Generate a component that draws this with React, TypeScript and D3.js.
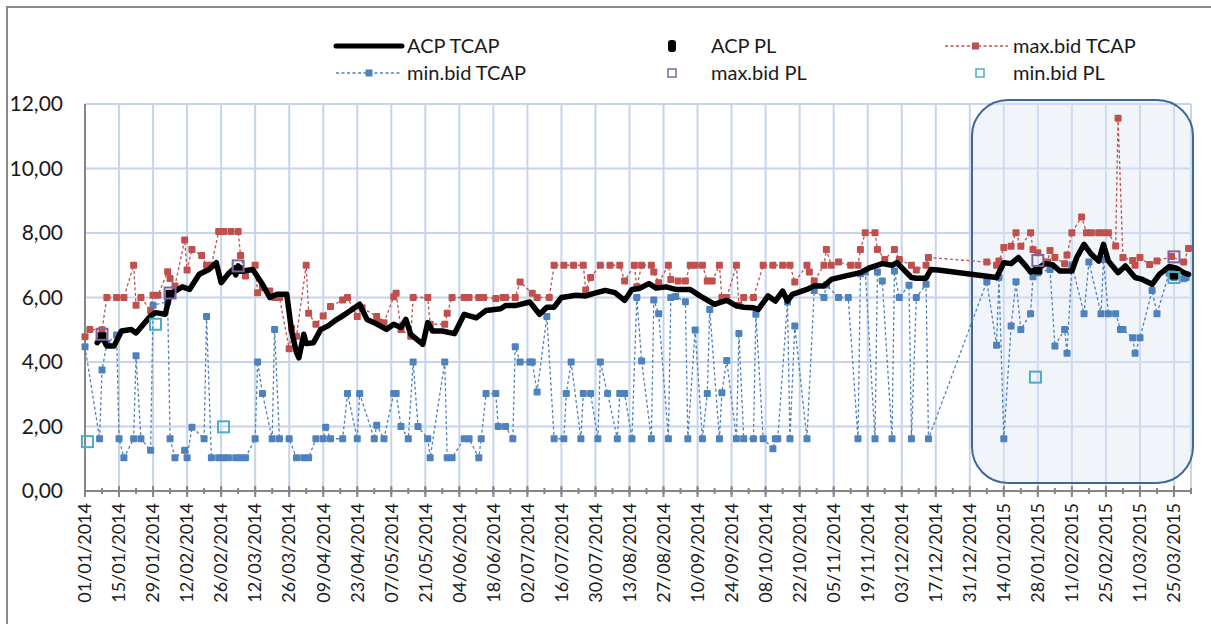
import React from "react";
import * as d3 from "d3";

type Pt = [string, number];

const acpTcap: Pt[] = [
  ["2014-01-06",4.6],["2014-01-08",4.78],["2014-01-10",4.5],["2014-01-13",4.5],["2014-01-16",4.96],["2014-01-20",5.01],
  ["2014-01-22",4.9],["2014-01-28",5.43],["2014-01-30",5.53],["2014-02-03",5.48],["2014-02-05",6.1],["2014-02-10",6.33],
  ["2014-02-13",6.25],["2014-02-17",6.72],["2014-02-21",6.87],["2014-02-24",7.08],["2014-02-26",6.46],["2014-03-01",6.74],
  ["2014-03-03",6.87],["2014-03-04",6.7],["2014-03-05",6.98],["2014-03-07",6.82],["2014-03-11",6.87],["2014-03-15",6.41],
  ["2014-03-18",6.0],["2014-03-21",6.1],["2014-03-25",6.1],["2014-03-27",4.96],["2014-03-29",4.29],["2014-03-30",4.13],
  ["2014-04-01",4.86],["2014-04-02",4.57],["2014-04-05",4.6],["2014-04-08",5.01],["2014-04-11",5.12],["2014-04-14",5.29],
  ["2014-04-17",5.43],["2014-04-20",5.58],["2014-04-24",5.79],["2014-04-27",5.32],["2014-04-30",5.22],["2014-05-05",5.01],
  ["2014-05-08",5.17],["2014-05-11",5.07],["2014-05-13",5.32],["2014-05-15",4.86],["2014-05-20",4.55],["2014-05-22",5.22],
  ["2014-05-24",4.96],["2014-05-28",4.96],["2014-06-02",4.88],["2014-06-06",5.48],["2014-06-11",5.37],["2014-06-15",5.6],
  ["2014-06-21",5.65],["2014-06-23",5.75],["2014-06-27",5.75],["2014-07-03",5.86],["2014-07-07",5.48],["2014-07-10",5.7],
  ["2014-07-13",5.7],["2014-07-16",6.0],["2014-07-22",6.07],["2014-07-26",6.05],["2014-07-29",6.12],["2014-08-03",6.22],
  ["2014-08-07",6.15],["2014-08-11",5.91],["2014-08-14",6.25],["2014-08-17",6.28],["2014-08-21",6.43],["2014-08-24",6.29],
  ["2014-08-28",6.33],["2014-09-01",6.25],["2014-09-07",6.25],["2014-09-11",6.05],["2014-09-17",5.79],["2014-09-19",5.84],
  ["2014-09-22",5.91],["2014-09-26",5.74],["2014-09-29",5.7],["2014-10-03",5.68],["2014-10-05",5.63],["2014-10-09",6.05],
  ["2014-10-12",5.89],["2014-10-15",6.2],["2014-10-17",5.89],["2014-10-19",6.1],["2014-10-25",6.25],["2014-10-28",6.36],
  ["2014-11-01",6.36],["2014-11-04",6.56],["2014-11-10",6.67],["2014-11-16",6.77],["2014-11-20",6.93],["2014-11-25",7.05],
  ["2014-11-29",7.0],["2014-12-01",7.08],["2014-12-05",6.77],["2014-12-07",6.62],["2014-12-09",6.6],["2014-12-13",6.6],
  ["2014-12-15",6.87],["2014-12-18",6.85],["2015-01-11",6.62],["2015-01-14",7.08],["2015-01-17",7.05],["2015-01-20",7.24],
  ["2015-01-23",6.98],["2015-01-25",6.79],["2015-01-29",6.95],["2015-01-31",7.05],["2015-02-03",7.02],["2015-02-06",6.82],
  ["2015-02-11",6.82],["2015-02-13",7.24],["2015-02-16",7.65],["2015-02-19",7.34],["2015-02-22",7.13],["2015-02-24",7.65],
  ["2015-02-26",7.13],["2015-03-02",6.77],["2015-03-05",6.98],["2015-03-09",6.62],["2015-03-12",6.56],["2015-03-16",6.41],
  ["2015-03-19",6.72],["2015-03-23",6.96],["2015-03-26",6.91],["2015-03-29",6.77],["2015-03-31",6.72]
];

const maxBidTcap: Pt[] = [
  ["2014-01-01",4.78],["2014-01-03",5.01],["2014-01-08",5.0],["2014-01-10",6.0],["2014-01-14",6.0],["2014-01-17",6.0],
  ["2014-01-21",7.0],["2014-01-22",5.76],["2014-01-24",6.0],["2014-01-28",5.6],["2014-01-29",6.07],["2014-01-31",6.07],
  ["2014-02-04",6.8],["2014-02-05",6.59],["2014-02-07",6.36],["2014-02-11",7.78],["2014-02-12",6.85],["2014-02-14",7.49],
  ["2014-02-18",7.3],["2014-02-20",7.0],["2014-02-22",7.0],["2014-02-25",8.05],["2014-02-27",8.05],["2014-03-02",8.05],
  ["2014-03-05",8.05],["2014-03-06",7.3],["2014-03-08",6.67],["2014-03-12",7.0],["2014-03-13",6.15],["2014-03-15",6.3],
  ["2014-03-18",6.2],["2014-03-20",6.0],["2014-03-22",6.0],["2014-03-26",4.41],["2014-03-27",5.04],["2014-03-29",4.8],
  ["2014-04-02",7.0],["2014-04-03",5.51],["2014-04-06",5.17],["2014-04-09",5.43],["2014-04-12",5.72],["2014-04-17",5.92],
  ["2014-04-19",6.0],["2014-04-23",5.41],["2014-04-25",5.68],["2014-05-01",5.41],["2014-05-02",5.24],["2014-05-04",5.22],
  ["2014-05-08",6.02],["2014-05-09",6.13],["2014-05-11",5.01],["2014-05-15",4.8],["2014-05-16",6.0],["2014-05-22",6.0],
  ["2014-05-23",5.17],["2014-05-29",5.17],["2014-05-30",5.51],["2014-06-01",6.0],["2014-06-06",6.0],["2014-06-08",6.0],
  ["2014-06-12",6.0],["2014-06-14",6.0],["2014-06-19",5.97],["2014-06-22",6.0],["2014-06-23",6.0],["2014-06-27",6.0],
  ["2014-06-29",6.48],["2014-07-04",6.13],["2014-07-06",6.0],["2014-07-11",6.0],["2014-07-13",7.0],["2014-07-17",7.0],
  ["2014-07-21",7.0],["2014-07-25",7.0],["2014-07-26",6.23],["2014-07-28",6.62],["2014-08-01",7.0],["2014-08-05",7.0],
  ["2014-08-09",7.0],["2014-08-11",6.51],["2014-08-15",7.0],["2014-08-16",6.33],["2014-08-18",7.0],["2014-08-22",7.0],
  ["2014-08-23",6.79],["2014-08-25",6.46],["2014-08-29",7.0],["2014-08-30",6.56],["2014-09-02",6.51],["2014-09-05",6.51],
  ["2014-09-07",7.0],["2014-09-09",7.0],["2014-09-12",7.0],["2014-09-14",6.51],["2014-09-16",6.51],["2014-09-19",7.0],
  ["2014-09-20",6.0],["2014-09-22",6.0],["2014-09-26",7.0],["2014-09-27",5.76],["2014-09-29",6.0],["2014-10-03",6.0],
  ["2014-10-07",7.0],["2014-10-11",7.0],["2014-10-15",7.0],["2014-10-18",7.0],["2014-10-20",6.48],["2014-10-25",7.0],
  ["2014-10-26",6.79],["2014-10-28",6.51],["2014-11-01",7.0],["2014-11-02",7.49],["2014-11-04",7.0],["2014-11-07",7.1],
  ["2014-11-12",7.0],["2014-11-15",7.0],["2014-11-16",7.49],["2014-11-18",8.01],["2014-11-22",8.01],["2014-11-23",7.49],
  ["2014-11-26",7.18],["2014-11-30",7.49],["2014-12-02",7.18],["2014-12-07",7.0],["2014-12-09",6.85],["2014-12-13",7.0],
  ["2014-12-14",7.24],["2015-01-07",7.1],["2015-01-11",7.0],["2015-01-12",7.13],["2015-01-14",7.55],["2015-01-17",7.59],
  ["2015-01-19",8.01],["2015-01-21",7.59],["2015-01-25",8.01],["2015-01-26",7.49],["2015-01-28",7.39],["2015-02-01",7.1],
  ["2015-02-02",7.46],["2015-02-04",7.24],["2015-02-08",7.05],["2015-02-09",7.32],["2015-02-11",8.01],["2015-02-15",8.5],
  ["2015-02-17",8.01],["2015-02-19",8.01],["2015-02-22",8.01],["2015-02-24",8.01],["2015-02-26",8.01],["2015-03-01",7.6],
  ["2015-03-02",11.56],["2015-03-04",7.24],["2015-03-08",7.15],["2015-03-09",7.0],["2015-03-11",7.24],["2015-03-15",7.02],
  ["2015-03-18",7.13],["2015-03-24",7.27],["2015-03-29",7.1],["2015-03-31",7.52]
];

const minBidTcap: Pt[] = [
  ["2014-01-01",4.47],["2014-01-07",1.62],["2014-01-08",3.75],["2014-01-10",4.58],["2014-01-14",4.84],["2014-01-15",1.62],
  ["2014-01-17",1.03],["2014-01-21",1.62],["2014-01-22",4.19],["2014-01-24",1.62],["2014-01-28",1.26],["2014-01-29",5.76],
  ["2014-02-04",5.87],["2014-02-05",1.62],["2014-02-07",1.03],["2014-02-11",1.26],["2014-02-12",1.03],["2014-02-14",1.98],
  ["2014-02-19",1.62],["2014-02-20",5.41],["2014-02-22",1.03],["2014-02-25",1.03],["2014-02-27",1.03],["2014-03-01",1.03],
  ["2014-03-04",1.03],["2014-03-06",1.03],["2014-03-08",1.03],["2014-03-12",1.62],["2014-03-13",4.0],["2014-03-15",3.02],
  ["2014-03-19",1.62],["2014-03-20",5.01],["2014-03-22",1.62],["2014-03-26",1.62],["2014-03-29",1.03],["2014-04-01",1.03],
  ["2014-04-03",1.03],["2014-04-06",1.62],["2014-04-09",1.62],["2014-04-10",1.98],["2014-04-12",1.62],["2014-04-17",1.62],
  ["2014-04-19",3.02],["2014-04-23",1.62],["2014-04-24",3.02],["2014-04-30",1.62],["2014-05-01",2.04],["2014-05-04",1.62],
  ["2014-05-08",3.02],["2014-05-09",3.02],["2014-05-11",2.0],["2014-05-14",1.62],["2014-05-16",4.0],["2014-05-18",2.0],
  ["2014-05-22",1.62],["2014-05-23",1.03],["2014-05-29",4.0],["2014-05-30",1.03],["2014-06-01",1.03],["2014-06-06",1.62],
  ["2014-06-08",1.62],["2014-06-12",1.03],["2014-06-13",1.62],["2014-06-15",3.02],["2014-06-19",3.02],["2014-06-20",2.0],
  ["2014-06-23",2.0],["2014-06-26",1.62],["2014-06-27",4.47],["2014-06-29",4.0],["2014-07-03",4.0],["2014-07-04",4.0],
  ["2014-07-06",3.07],["2014-07-10",5.41],["2014-07-13",1.62],["2014-07-17",1.62],["2014-07-18",3.02],["2014-07-20",4.0],
  ["2014-07-24",1.62],["2014-07-25",3.02],["2014-07-28",3.02],["2014-07-31",1.62],["2014-08-01",4.0],["2014-08-04",3.02],
  ["2014-08-08",1.62],["2014-08-09",3.02],["2014-08-11",3.02],["2014-08-14",1.62],["2014-08-16",6.0],["2014-08-18",4.03],
  ["2014-08-22",1.62],["2014-08-23",5.92],["2014-08-25",5.5],["2014-08-29",1.62],["2014-08-30",6.0],["2014-09-01",6.03],
  ["2014-09-05",5.87],["2014-09-06",1.62],["2014-09-09",4.99],["2014-09-12",1.62],["2014-09-14",3.02],["2014-09-15",5.63],
  ["2014-09-19",1.62],["2014-09-20",3.05],["2014-09-22",4.05],["2014-09-26",1.62],["2014-09-27",4.88],["2014-09-29",1.62],
  ["2014-10-03",1.62],["2014-10-04",5.48],["2014-10-07",1.62],["2014-10-11",1.31],["2014-10-12",1.62],["2014-10-13",1.62],
  ["2014-10-17",5.86],["2014-10-18",1.62],["2014-10-20",5.12],["2014-10-25",1.62],["2014-10-28",6.22],["2014-11-01",6.0],
  ["2014-11-02",6.39],["2014-11-07",6.0],["2014-11-11",6.0],["2014-11-15",1.62],["2014-11-16",6.74],["2014-11-18",6.79],
  ["2014-11-22",1.62],["2014-11-23",6.79],["2014-11-25",6.51],["2014-11-29",1.62],["2014-11-30",6.82],["2014-12-02",6.0],
  ["2014-12-06",6.38],["2014-12-07",1.62],["2014-12-09",6.0],["2014-12-13",6.41],["2014-12-14",1.62],["2015-01-07",6.49],
  ["2015-01-11",4.52],["2015-01-12",6.62],["2015-01-14",1.62],["2015-01-17",5.12],["2015-01-19",6.49],["2015-01-21",5.01],
  ["2015-01-25",5.5],["2015-01-26",6.64],["2015-01-28",6.77],["2015-02-02",6.87],["2015-02-04",4.5],["2015-02-08",5.01],
  ["2015-02-09",4.27],["2015-02-11",7.01],["2015-02-16",5.5],["2015-02-18",7.1],["2015-02-23",5.5],["2015-02-24",7.18],
  ["2015-02-26",5.5],["2015-03-01",5.5],["2015-03-03",5.01],["2015-03-04",5.01],["2015-03-08",4.75],["2015-03-09",4.27],
  ["2015-03-11",4.75],["2015-03-16",6.22],["2015-03-18",5.5],["2015-03-23",6.75],["2015-03-25",6.62],["2015-03-29",6.58],
  ["2015-03-30",6.62]
];

const acpPl: Pt[] = [["2014-01-08",4.78],["2014-02-05",6.1],["2014-03-05",6.87],["2015-01-28",6.85],["2015-03-25",6.7]];
const maxBidPl: Pt[] = [["2014-01-08",4.86],["2014-02-05",6.14],["2014-03-05",6.98],["2015-01-28",7.15],["2015-03-25",7.26]];
const minBidPl: Pt[] = [["2014-01-02",1.53],["2014-01-30",5.17],["2014-02-27",1.99],["2015-01-27",3.53],["2015-03-25",6.62]];

const yTicks = [0, 2, 4, 6, 8, 10, 12];
const axisStart = "2014-01-01";
const axisEnd = "2015-04-01";
const majorStepDays = 14;
const minorStepDays = 7;

const C = {
  red: "#c0504d",
  blue: "#4f81bd",
  purple: "#8064a2",
  teal: "#4bacc6",
  grid: "#c6d4ec",
  axis: "#868686",
  text: "#1a1a1a",
};

const FONT = "Lato, 'Open Sans', sans-serif";

export default function App() {
  const parse = d3.utcParse("%Y-%m-%d");
  const d0 = parse(axisStart)!;
  const d1 = parse(axisEnd)!;
  const left = 85, right = 1191, top = 104, bottom = 491;
  const x = d3.scaleUtc().domain([d0, d1]).range([left, right]);
  const y = d3.scaleLinear().domain([0, 12]).range([bottom, top]);
  const nDays = d3.utcDay.count(d0, d1);
  const major = d3.range(0, nDays + 1, majorStepDays).map((k) => d3.utcDay.offset(d0, k));
  const minor = d3.range(0, nDays + 1, minorStepDays).map((k) => d3.utcDay.offset(d0, k));
  const fmtDate = d3.utcFormat("%d/%m/%Y");
  const fmtY = (v: number) => d3.format(".2f")(v).replace(".", ",");
  const px = (p: Pt) => x(parse(p[0])!);
  const py = (p: Pt) => y(p[1]);
  const line = d3.line<Pt>().x(px).y(py);

  const sq = (p: Pt, s: number, fill: string, stroke?: string, sw = 0, key?: any) => (
    <rect key={key} x={px(p) - s / 2} y={py(p) - s / 2} width={s} height={s}
      fill={fill} stroke={stroke ?? "none"} strokeWidth={sw} rx={stroke ? 0 : 1} />
  );

  return (
    <svg width={1211} height={624} style={{ position: "absolute", left: 0, top: 0, background: "#fff" }}
      fontFamily={FONT}>
      <rect x={7} y={7} width={1240} height={700} fill="none" stroke="#8a8a8a" strokeWidth={2} />

      {/* grid */}
      {yTicks.map((t) => (
        <line key={"gy" + t} x1={left} x2={right} y1={y(t)} y2={y(t)} stroke={C.grid} strokeWidth={2} />
      ))}
      {major.map((d, i) => (
        <line key={"gx" + i} x1={x(d)} x2={x(d)} y1={top} y2={bottom} stroke={C.grid} strokeWidth={2} />
      ))}
      <line x1={right} x2={right} y1={top} y2={bottom} stroke={C.grid} strokeWidth={2} />

      {/* highlight box */}
      <rect x={972} y={100} width={221} height={383} rx={36} ry={36}
        fill="#dbe5f3" fillOpacity={0.4} stroke="#41679a" strokeWidth={2} />

      {/* axes */}
      <line x1={left} x2={left} y1={top} y2={bottom} stroke={C.axis} strokeWidth={2} />
      <line x1={left} x2={right} y1={bottom} y2={bottom} stroke={C.axis} strokeWidth={2} />
      {minor.map((d, i) => (
        <line key={"mn" + i} x1={x(d)} x2={x(d)} y1={bottom - 3} y2={bottom + 3} stroke={C.axis} strokeWidth={2} />
      ))}
      {major.map((d, i) => (
        <line key={"mj" + i} x1={x(d)} x2={x(d)} y1={bottom - 5} y2={bottom + 6} stroke={C.axis} strokeWidth={2} />
      ))}
      {yTicks.map((t) => (
        <text key={"yl" + t} x={63} y={y(t)} dy="0.35em" textAnchor="end" fontSize={21} fill={C.text}>{fmtY(t)}</text>
      ))}
      {major.map((d, i) => (
        <text key={"xl" + i} transform={`translate(${x(d)},${bottom + 12}) rotate(-90)`} textAnchor="end"
          dy="0.35em" fontSize={18} fill={C.text}>{fmtDate(d)}</text>
      ))}

      {/* min.bid TCAP */}
      <path d={line(minBidTcap)!} fill="none" stroke={C.blue} strokeWidth={1.3} strokeDasharray="3 2.5" />
      {minBidTcap.map((p, i) => sq(p, 7, C.blue, undefined, 0, "b" + i))}
      {/* max.bid TCAP */}
      <path d={line(maxBidTcap)!} fill="none" stroke={C.red} strokeWidth={1.3} strokeDasharray="3 2.5" />
      {maxBidTcap.map((p, i) => sq(p, 7, C.red, undefined, 0, "r" + i))}
      {/* ACP TCAP */}
      <path d={line(acpTcap)!} fill="none" stroke="#000" strokeWidth={5.5} strokeLinejoin="round" strokeLinecap="round" />
      {acpPl.map((p, i) => sq(p, 9, "#000", undefined, 0, "a" + i))}
      {maxBidPl.map((p, i) => sq(p, 11, "none", C.purple, 2, "mp" + i))}
      {minBidPl.map((p, i) => sq(p, 11, "none", C.teal, 2, "np" + i))}

      {/* legend */}
      <g fontSize={20} fill={C.text}>
        <line x1={336} x2={402} y1={46} y2={46} stroke="#000" strokeWidth={5} strokeLinecap="round" />
        <text x={407} y={46} dy="0.35em">ACP TCAP</text>
        <rect x={668} y={40} width={8} height={12} rx={3} fill="#000" />
        <text x={711} y={46} dy="0.35em">ACP PL</text>
        <line x1={945} x2={1008} y1={46} y2={46} stroke={C.red} strokeWidth={1.3} strokeDasharray="3 2.5" />
        <rect x={972} y={42.5} width={7} height={7} fill={C.red} />
        <text x={1013} y={46} dy="0.35em">max.bid TCAP</text>

        <line x1={336} x2={402} y1={73} y2={73} stroke={C.blue} strokeWidth={1.3} strokeDasharray="3 2.5" />
        <rect x={365.5} y={69.5} width={7} height={7} fill={C.blue} />
        <text x={407} y={73} dy="0.35em">min.bid TCAP</text>
        <rect x={668} y={69} width={8} height={8} fill="none" stroke={C.purple} strokeWidth={1.5} />
        <text x={711} y={73} dy="0.35em">max.bid PL</text>
        <rect x={976} y={69} width={8} height={8} fill="none" stroke={C.teal} strokeWidth={1.5} />
        <text x={1013} y={73} dy="0.35em">min.bid PL</text>
      </g>
    </svg>
  );
}
